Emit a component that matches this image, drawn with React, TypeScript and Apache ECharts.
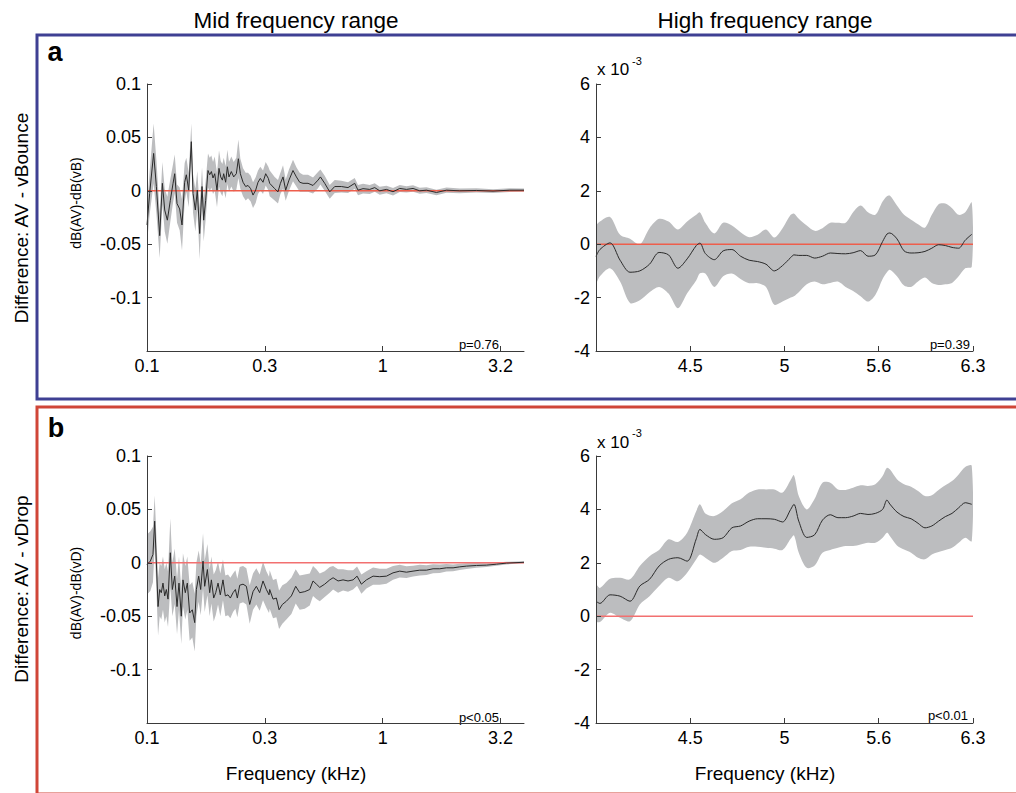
import React, { useEffect, useRef } from 'react';
import * as echarts from 'echarts';

// ---------- axis extents & ticks (kHz) ----------
const MID_F_MIN = 0.1;
const MID_F_MAX = 3.981;
const HIGH_F_MIN = 3.9811;
const HIGH_F_MAX = 6.3096;

const midTickFreqs = [0.1, 0.3162, 1, 3.162];
const midTickLabels = ['0.1', '0.3', '1', '3.2'];
const highTickFreqs = [4.467, 5.012, 5.623, 6.3096];
const highTickLabels = ['4.5', '5', '5.6', '6.3'];

const midYMin = -0.15;
const midYMax = 0.1;
const midYStep = 0.05;
const highYMin = -4;
const highYMax = 6;
const highYStep = 2;

// ---------- panel a, mid frequency range (mean and CI half-width, dB) ----------
const midAFreq = [0.1, 0.1026, 0.1067, 0.1096, 0.1132, 0.1162, 0.1189, 0.122, 0.1256, 0.129, 0.1311, 0.1341, 0.1376, 0.1408, 0.1445, 0.1469, 0.1503, 0.1542, 0.1568, 0.1604, 0.1635, 0.1673, 0.1712, 0.174, 0.1774, 0.1815, 0.1845, 0.1876, 0.1906, 0.1938, 0.1982, 0.2021, 0.2055, 0.2089, 0.2116, 0.2157, 0.2193, 0.2228, 0.228, 0.2333, 0.2394, 0.2442, 0.249, 0.2556, 0.2623, 0.2684, 0.2754, 0.2818, 0.2892, 0.2959, 0.3027, 0.3107, 0.3189, 0.3273, 0.3317, 0.3483, 0.3597, 0.3683, 0.3778, 0.3878, 0.4005, 0.4165, 0.4306, 0.4447, 0.4594, 0.4824, 0.5065, 0.5318, 0.5445, 0.5678, 0.5964, 0.6262, 0.6684, 0.7131, 0.7613, 0.7863, 0.8257, 0.8816, 0.9257, 0.972, 1.038, 1.107, 1.182, 1.262, 1.346, 1.437, 1.535, 1.692, 1.866, 2.124, 2.501, 2.942, 3.463, 3.981];
const midAMean = [-0.032, -0.0025, 0.035, 0.004, -0.042, 0.007, -0.018, -0.0275, -0.009, 0.007, 0.016, -0.012, -0.017, -0.032, 0.008, 0.015, 0.0006, 0.046, -0.0025, -0.018, 0.0006, -0.04, 0.004, -0.0275, -0.009, 0.019, 0.015, 0.018, 0.012, 0.016, 0.0006, 0.021, 0.013, 0.01, 0.016, 0.008, 0.0225, 0.013, 0.018, 0.013, 0.016, 0.03, 0.016, 0.008, 0.004, 0.005, 0.002, -0.004, 0.0006, 0.008, 0.0116, 0.008, 0.016, 0.0116, 0.007, 0.002, -0.001, 0.007, 0.013, 0.0006, 0.01, 0.019, 0.013, 0.008, 0.007, 0.007, 0.005, 0.01, 0.013, 0.007, -0.001, 0.004, 0.004, 0.003, 0.007, 0.0006, 0.002, 0.0013, 0.003, 0, 0.0013, -0.0009, 0.0022, 0.0013, 0.0022, 0, 0.0006, -0.0016, 0.0006, 0, 0.0003, -0.0003, 0.0006, 0.0006];
const midACi = [0.017, 0.02, 0.028, 0.025, 0.021, 0.02, 0.02, 0.022, 0.02, 0.018, 0.018, 0.018, 0.02, 0.024, 0.018, 0.016, 0.016, 0.017, 0.018, 0.02, 0.018, 0.024, 0.018, 0.02, 0.018, 0.016, 0.016, 0.015, 0.015, 0.016, 0.016, 0.017, 0.015, 0.015, 0.015, 0.015, 0.016, 0.014, 0.014, 0.014, 0.015, 0.018, 0.014, 0.013, 0.013, 0.012, 0.012, 0.012, 0.012, 0.011, 0.011, 0.011, 0.011, 0.011, 0.012, 0.011, 0.011, 0.01, 0.011, 0.01, 0.01, 0.01, 0.009, 0.009, 0.008, 0.008, 0.0075, 0.0075, 0.007, 0.007, 0.0065, 0.006, 0.0055, 0.005, 0.005, 0.0048, 0.0045, 0.0042, 0.004, 0.0038, 0.0035, 0.0035, 0.0033, 0.003, 0.003, 0.0028, 0.0027, 0.0025, 0.0024, 0.0022, 0.002, 0.0018, 0.0017, 0.0016];

// ---------- panel b, mid frequency range ----------
const midBFreq = [0.1, 0.1033, 0.106, 0.1078, 0.1096, 0.1114, 0.1132, 0.115, 0.1169, 0.1189, 0.1208, 0.1228, 0.1256, 0.1281, 0.1311, 0.1341, 0.1367, 0.1398, 0.1421, 0.1454, 0.1483, 0.1517, 0.1557, 0.1594, 0.162, 0.1657, 0.169, 0.1729, 0.1757, 0.1804, 0.1845, 0.1876, 0.1919, 0.1957, 0.2002, 0.2047, 0.2101, 0.215, 0.2207, 0.2258, 0.2318, 0.2372, 0.2418, 0.2474, 0.2556, 0.2641, 0.2728, 0.2818, 0.2911, 0.3007, 0.3107, 0.321, 0.3295, 0.3317, 0.3427, 0.3541, 0.3635, 0.3754, 0.3904, 0.41, 0.4277, 0.4447, 0.4672, 0.4905, 0.5065, 0.5236, 0.5409, 0.5678, 0.5964, 0.6163, 0.647, 0.6794, 0.7131, 0.7491, 0.779, 0.8127, 0.8536, 0.9108, 0.972, 1.038, 1.107, 1.182, 1.262, 1.346, 1.437, 1.535, 1.637, 1.747, 1.866, 1.991, 2.124, 2.268, 2.501, 2.757, 3.04, 3.352, 3.981];
const midBMean = [-0.0016, 0.0016, 0.0078, 0.039, 0, -0.041, -0.025, -0.028, -0.019, -0.031, -0.025, -0.034, 0.0094, -0.025, -0.0125, -0.041, -0.019, -0.05, -0.016, -0.028, -0.019, -0.047, -0.044, -0.056, -0.025, -0.0125, -0.025, 0.0016, -0.022, -0.0063, -0.028, -0.016, -0.033, -0.028, -0.019, -0.03, -0.016, -0.031, -0.03, -0.033, -0.028, -0.025, -0.033, -0.021, -0.02, -0.022, -0.039, -0.027, -0.022, -0.028, -0.017, -0.025, -0.03, -0.025, -0.034, -0.033, -0.044, -0.039, -0.036, -0.031, -0.022, -0.028, -0.027, -0.025, -0.017, -0.02, -0.023, -0.02, -0.016, -0.014, -0.017, -0.016, -0.017, -0.016, -0.0125, -0.02, -0.016, -0.0125, -0.013, -0.0125, -0.0094, -0.0078, -0.0088, -0.0078, -0.0069, -0.0069, -0.0056, -0.0056, -0.0047, -0.0047, -0.0038, -0.0031, -0.0025, -0.0022, -0.0013, -0.0003, 0.0005];
const midBCi = [0.028, 0.028, 0.026, 0.024, 0.025, 0.027, 0.025, 0.025, 0.025, 0.025, 0.025, 0.026, 0.032, 0.025, 0.026, 0.026, 0.025, 0.026, 0.025, 0.025, 0.025, 0.026, 0.026, 0.027, 0.025, 0.024, 0.024, 0.026, 0.024, 0.024, 0.022, 0.022, 0.022, 0.021, 0.02, 0.02, 0.019, 0.019, 0.019, 0.019, 0.018, 0.018, 0.018, 0.017, 0.017, 0.017, 0.018, 0.017, 0.017, 0.017, 0.018, 0.017, 0.017, 0.018, 0.018, 0.018, 0.018, 0.018, 0.017, 0.017, 0.016, 0.016, 0.016, 0.015, 0.014, 0.014, 0.013, 0.012, 0.012, 0.011, 0.011, 0.01, 0.01, 0.009, 0.009, 0.009, 0.008, 0.008, 0.0075, 0.007, 0.0065, 0.006, 0.0055, 0.005, 0.005, 0.0045, 0.0042, 0.004, 0.0035, 0.0032, 0.003, 0.0027, 0.0022, 0.0018, 0.0015, 0.0012, 0.001];

// ---------- high frequency range (values in units of 10^-3 dB) ----------
const highFreq = [3.9811, 4.0, 4.05, 4.1, 4.15, 4.2, 4.25, 4.3, 4.35, 4.4, 4.45, 4.5, 4.52, 4.55, 4.6, 4.65, 4.7, 4.75, 4.8, 4.85, 4.9, 4.95, 5.0, 5.05, 5.07, 5.1, 5.15, 5.2, 5.25, 5.3, 5.35, 5.4, 5.45, 5.5, 5.55, 5.6, 5.65, 5.68, 5.7, 5.75, 5.8, 5.85, 5.9, 5.95, 6.0, 6.05, 6.1, 6.15, 6.2, 6.25, 6.3];
const highAMean = [-0.46, -0.2, 0.05, -0.6, -1.05, -1.0, -0.75, -0.31, -0.4, -0.9, -0.55, -0.05, 0.04, -0.35, -0.58, -0.25, -0.2, -0.45, -0.6, -0.65, -0.75, -1.0, -0.8, -0.5, -0.4, -0.42, -0.42, -0.52, -0.45, -0.33, -0.35, -0.36, -0.32, -0.24, -0.45, -0.4, 0.1, 0.38, 0.42, 0.2, -0.25, -0.33, -0.32, -0.27, -0.15, -0.02, -0.05, -0.12, -0.15, 0.15, 0.37];
const highAUpper = [0.66, 0.85, 1.02, 0.35, 0.2, -0.01, 0.6, 0.95, 0.85, 0.55, 0.85, 1.1, 1.19, 0.8, 0.4, 0.8, 0.7, 0.45, 0.26, 0.35, 0.55, 0.25, 0.6, 1.1, 1.15, 0.95, 0.7, 0.5, 0.6, 0.8, 0.8, 0.8, 1.2, 1.45, 1.2, 1.1, 1.6, 1.8, 1.82, 1.45, 1.1, 0.92, 0.75, 0.62, 1.1, 1.5, 1.52, 1.35, 1.1, 1.2, 1.56];
const highALower = [-1.46, -1.2, -0.9, -1.4, -2.2, -2.1, -1.8, -1.6, -1.85, -2.4, -1.84, -1.35, -1.09, -1.1, -1.6, -1.2, -1.1, -1.3, -1.46, -1.46, -1.6, -2.27, -2.15, -2.0, -1.95, -1.8, -1.5, -1.4, -1.5, -1.45, -1.4, -1.6, -1.75, -1.95, -2.15, -1.9, -1.3, -1.05, -0.96, -1.2, -1.55, -1.6, -1.4, -1.25, -1.45, -1.53, -1.5, -1.45, -1.2, -0.9, -0.84];
const highBMean = [0.56, 0.48, 0.8, 0.75, 0.56, 1.13, 1.38, 1.88, 2.13, 2.19, 2.06, 2.9, 3.25, 3.06, 2.88, 2.94, 3.31, 3.38, 3.56, 3.65, 3.65, 3.63, 3.53, 4.0, 4.19, 3.56, 2.95, 3.05, 3.6, 3.8, 3.69, 3.69, 3.75, 3.85, 3.81, 3.85, 4.0, 4.35, 4.2, 3.9, 3.73, 3.65, 3.48, 3.31, 3.38, 3.56, 3.73, 3.85, 4.06, 4.25, 4.19];
const highBUpper = [1.19, 1.06, 1.4, 1.44, 1.38, 1.88, 2.25, 2.48, 2.88, 2.78, 3.13, 3.94, 4.19, 3.85, 3.75, 3.94, 4.23, 4.38, 4.63, 4.75, 4.75, 4.75, 4.63, 5.1, 5.28, 4.5, 4.0, 4.4, 5.0, 5.0, 4.75, 4.73, 4.81, 4.9, 4.88, 4.94, 5.25, 5.56, 5.5, 5.13, 4.94, 4.85, 4.69, 4.5, 4.53, 4.73, 4.9, 5.06, 5.31, 5.59, 5.63];
const highBLower = [-0.19, -0.22, 0.13, -0.06, -0.19, 0.44, 0.75, 1.13, 1.44, 1.31, 1.63, 2.13, 2.31, 2.19, 2.0, 2.19, 2.44, 2.48, 2.6, 2.6, 2.56, 2.53, 2.48, 2.9, 3.03, 2.38, 1.81, 1.9, 2.38, 2.48, 2.56, 2.63, 2.63, 2.69, 2.75, 2.75, 2.94, 3.13, 3.0, 2.65, 2.5, 2.38, 2.19, 2.13, 2.31, 2.4, 2.48, 2.56, 2.75, 2.94, 2.81];

const pLabels = ['p=0.76', 'p=0.39', 'p<0.05', 'p<0.01'];

// ---------- styles ----------
const FONT = '"Liberation Sans", Arial, Helvetica, sans-serif';
const AXIS = '#3a3a3a';
const BAND = '#bcbdbf';
const MEAN = '#2a2a2a';
const ZERO_A = '#ee5e4c';
const ZERO_B = '#f27070';
const BLUE = '#3f4093';
const RED = '#d04638';

type Panel = {
  freq: number[];
  mean: number[];
  lo: number[];
  hi: number[];
  fMin: number;
  fMax: number;
  ticks: number[];
  tickLabels: string[];
  yMin: number;
  yMax: number;
  yStep: number;
  smooth: number;
  zero: string;
};

const fmtNum = (v: number) => String(parseFloat(v.toFixed(4)));

export default function App() {
  const ref = useRef<HTMLDivElement>(null);

  useEffect(() => {
    if (!ref.current) return;
    const chart = echarts.init(ref.current, undefined, { renderer: 'svg' });

    const panels: Panel[] = [
      {
        freq: midAFreq, mean: midAMean,
        lo: midAMean.map((m, i) => m - midACi[i]), hi: midAMean.map((m, i) => m + midACi[i]),
        fMin: MID_F_MIN, fMax: MID_F_MAX, ticks: midTickFreqs, tickLabels: midTickLabels,
        yMin: midYMin, yMax: midYMax, yStep: midYStep, smooth: 0, zero: ZERO_A,
      },
      {
        freq: highFreq, mean: highAMean, lo: highALower, hi: highAUpper,
        fMin: HIGH_F_MIN, fMax: HIGH_F_MAX, ticks: highTickFreqs, tickLabels: highTickLabels,
        yMin: highYMin, yMax: highYMax, yStep: highYStep, smooth: 0.3, zero: ZERO_A,
      },
      {
        freq: midBFreq, mean: midBMean,
        lo: midBMean.map((m, i) => m - midBCi[i]), hi: midBMean.map((m, i) => m + midBCi[i]),
        fMin: MID_F_MIN, fMax: MID_F_MAX, ticks: midTickFreqs, tickLabels: midTickLabels,
        yMin: midYMin, yMax: midYMax, yStep: midYStep, smooth: 0, zero: ZERO_B,
      },
      {
        freq: highFreq, mean: highBMean, lo: highBLower, hi: highBUpper,
        fMin: HIGH_F_MIN, fMax: HIGH_F_MAX, ticks: highTickFreqs, tickLabels: highTickLabels,
        yMin: highYMin, yMax: highYMax, yStep: highYStep, smooth: 0.3, zero: ZERO_B,
      },
    ];

    const grids = [
      { left: 147, top: 84, width: 377, height: 267 },
      { left: 596, top: 84, width: 377, height: 267 },
      { left: 147, top: 456, width: 377, height: 267 },
      { left: 596, top: 456, width: 377, height: 267 },
    ];

    const xAxes: any[] = [];
    const yAxes: any[] = [];
    const series: any[] = [];

    panels.forEach((p, gi) => {
      // data axis: logarithmic frequency axis (hidden)
      xAxes.push({
        type: 'log', logBase: 10, gridIndex: gi, min: p.fMin, max: p.fMax,
        show: false, position: 'top',
      });
      // visible tick axis on the same log10 extent
      const tickVals = p.ticks.map((f) => Math.log10(f));
      const lmin = Math.log10(p.fMin);
      const lmax = Math.log10(p.fMax);
      xAxes.push({
        type: 'value', gridIndex: gi, position: 'bottom', min: lmin, max: lmax, z: 6,
        axisLine: { show: true, onZero: false, lineStyle: { color: AXIS, width: 1 } },
        axisTick: { show: true, inside: true, length: 5, customValues: tickVals, lineStyle: { color: AXIS } },
        axisLabel: {
          show: true, customValues: tickVals, margin: 6, fontSize: 18, color: '#000', fontFamily: FONT,
          formatter: (v: number) => {
            const i = tickVals.findIndex((t) => Math.abs(t - v) < 1e-3);
            return i >= 0 ? p.tickLabels[i] : '';
          },
        },
        splitLine: { show: false },
      });
      yAxes.push({
        type: 'value', gridIndex: gi, min: p.yMin, max: p.yMax, interval: p.yStep, z: 6,
        axisLine: { show: true, onZero: false, lineStyle: { color: AXIS, width: 1 } },
        axisTick: { show: true, inside: true, length: 5, lineStyle: { color: AXIS } },
        axisLabel: {
          margin: 6, fontSize: 18, color: '#000', fontFamily: FONT,
          formatter: (v: number) => (gi % 2 === 0 && v < p.yMin + p.yStep / 2 ? '' : fmtNum(v)),
        },
        splitLine: { show: false },
      });

      const xi = gi * 2;
      const freq = p.freq;
      series.push({
        type: 'custom', xAxisIndex: xi, yAxisIndex: gi, z: 2, silent: true, clip: true,
        data: freq.map((f, i) => [f, p.lo[i], p.hi[i]]),
        encode: { x: 0, y: [1, 2] },
        renderItem: (params: any, api: any) => {
          if (params.dataIndex !== 0) return null;
          const pts: number[][] = [];
          for (let i = 0; i < freq.length; i++) pts.push(api.coord([freq[i], p.hi[i]]));
          for (let i = freq.length - 1; i >= 0; i--) pts.push(api.coord([freq[i], p.lo[i]]));
          return {
            type: 'polygon',
            shape: { points: pts, smooth: p.smooth },
            style: { fill: BAND, stroke: null },
          };
        },
      });
      series.push({
        type: 'line', xAxisIndex: xi, yAxisIndex: gi, z: 3, silent: true,
        data: [[p.fMin, 0], [p.fMax, 0]],
        symbol: 'none', lineStyle: { color: p.zero, width: 1.6 },
      });
      series.push({
        type: 'line', xAxisIndex: xi, yAxisIndex: gi, z: 4, silent: true,
        data: freq.map((f, i) => [f, p.mean[i]]),
        symbol: 'none', smooth: p.smooth > 0 ? 0.3 : false,
        lineStyle: { color: MEAN, width: 1 },
      });
    });

    const txt = (text: string, x: number, y: number, size: number, extra: any = {}, style: any = {}) => ({
      type: 'text', x, y, silent: true, ...extra,
      style: {
        text, fontSize: size, fontFamily: FONT, fill: '#000',
        textAlign: 'center', textVerticalAlign: 'middle', ...style,
      },
    });

    const graphic: any[] = [
      { type: 'rect', silent: true, shape: { x: 37, y: 35, width: 1000, height: 364 }, style: { fill: 'none', stroke: BLUE, lineWidth: 3 } },
      { type: 'rect', silent: true, shape: { x: 37, y: 407, width: 1000, height: 387 }, style: { fill: 'none', stroke: RED, lineWidth: 3 } },
      txt('Mid frequency range', 296, 20, 22.5),
      txt('High frequency range', 765, 20, 22.5),
      txt('a', 55, 52, 27, {}, { fontWeight: 'bold' }),
      txt('b', 56, 428, 27, {}, { fontWeight: 'bold' }),
      txt('Difference: AV - vBounce', 21, 218, 19, { rotation: Math.PI / 2 }),
      txt('Difference: AV - vDrop', 21, 589, 19, { rotation: Math.PI / 2 }),
      txt('dB(AV)-dB(vB)', 76, 203, 14, { rotation: Math.PI / 2 }),
      txt('dB(AV)-dB(vD)', 76, 593, 14, { rotation: Math.PI / 2 }),
      txt('x 10', 597, 69, 17, {}, { textAlign: 'left' }),
      txt('-3', 632, 61, 11, {}, { textAlign: 'left' }),
      txt('x 10', 597, 442, 17, {}, { textAlign: 'left' }),
      txt('-3', 632, 433, 11, {}, { textAlign: 'left' }),
      txt('Frequency (kHz)', 296, 773, 19),
      txt('Frequency (kHz)', 765, 773, 19),
      txt(pLabels[0], 499, 344, 13, {}, { textAlign: 'right' }),
      txt(pLabels[1], 970, 344, 13, {}, { textAlign: 'right' }),
      txt(pLabels[2], 499, 717, 13, {}, { textAlign: 'right' }),
      txt(pLabels[3], 968, 715, 13, {}, { textAlign: 'right' }),
    ];

    chart.setOption({
      animation: false,
      backgroundColor: '#ffffff',
      textStyle: { fontFamily: FONT },
      grid: grids,
      xAxis: xAxes,
      yAxis: yAxes,
      series,
      graphic,
    });

    return () => chart.dispose();
  }, []);

  return (
    <div
      ref={ref}
      style={{ position: 'fixed', left: 0, top: 0, width: 1016, height: 793, background: '#fff' }}
    />
  );
}
